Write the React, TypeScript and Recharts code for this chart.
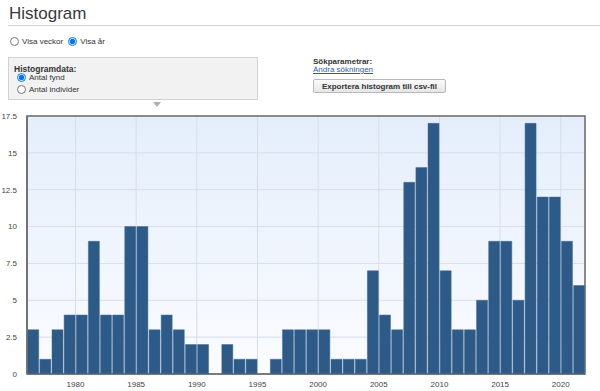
import { Bar, BarChart, CartesianGrid, ReferenceArea, XAxis, YAxis } from "recharts"

const YEARS = [
	1976, 1977, 1978, 1979, 1980, 1981, 1982, 1983, 1984, 1985, 1986, 1987, 1988, 1989, 1990, 1991,
	1992, 1993, 1994, 1995, 1996, 1997, 1998, 1999, 2000, 2001, 2002, 2003, 2004, 2005, 2006, 2007,
	2008, 2009, 2010, 2011, 2012, 2013, 2014, 2015, 2016, 2017, 2018, 2019, 2020, 2021,
]
const FYND = [
	3, 1, 3, 4, 4, 9, 4, 4, 10, 10, 3, 4, 3, 2, 2, 0, 2, 1, 1, 0, 1, 3, 3, 3, 3, 1, 1, 1, 7, 4, 3, 13,
	14, 17, 7, 3, 3, 5, 9, 9, 5, 17, 12, 12, 9, 6,
]
const X_TICKS = [1980, 1985, 1990, 1995, 2000, 2005, 2010, 2015, 2020]
const Y_TICKS = [0, 2.5, 5, 7.5, 10, 12.5, 15, 17.5]

const BAR_COLOR = "#2d5a87"
const GRID_COLOR = "#d6dee9"
const BORDER_COLOR = "#6b6b6b"
const FONT = "Arial, 'Liberation Sans', sans-serif"

const data = YEARS.map((year, i) => ({ year, fynd: FYND[i] }))

const small = { fontSize: 8, color: "#333", fontFamily: FONT }
const radio = { width: 9, height: 9, margin: "0 3px 0 0", verticalAlign: "middle" }

export default function App() {
	return (
		<div style={{ position: "absolute", left: 0, top: 0, width: 600, height: 391, background: "#fff", fontFamily: FONT, overflow: "hidden" }}>
			<div style={{ position: "absolute", left: 9, top: 4, fontSize: 17, color: "#3a3a3a" }}>Histogram</div>
			<div style={{ position: "absolute", left: 8, right: 0, top: 25, borderTop: "1px solid #d0d0d0" }} />

			<div style={{ position: "absolute", left: 10, top: 37, ...small, display: "flex", alignItems: "center" }}>
				<input type="radio" name="period" style={radio} readOnly />
				<span style={{ marginRight: 5 }}>Visa veckor</span>
				<input type="radio" name="period" style={radio} checked readOnly />
				<span>Visa år</span>
			</div>

			<div style={{ position: "absolute", left: 8, top: 57, width: 250, height: 43, background: "#f2f2f2", border: "1px solid #d2d2d2", boxSizing: "border-box" }}>
				<div style={{ position: "absolute", left: 5, top: 6, ...small, fontWeight: "bold", fontSize: 8.5 }}>Histogramdata:</div>
				<div style={{ position: "absolute", left: 8, top: 15, ...small, display: "flex", alignItems: "center" }}>
					<input type="radio" name="hdata" style={radio} checked readOnly />
					<span>Antal fynd</span>
				</div>
				<div style={{ position: "absolute", left: 8, top: 27, ...small, display: "flex", alignItems: "center" }}>
					<input type="radio" name="hdata" style={radio} readOnly />
					<span>Antal individer</span>
				</div>
			</div>
			<div style={{ position: "absolute", left: 153, top: 102, width: 0, height: 0, borderLeft: "4px solid transparent", borderRight: "4px solid transparent", borderTop: "5px solid #b0b0b0" }} />

			<div style={{ position: "absolute", left: 313, top: 57, ...small, fontWeight: "bold" }}>Sökparametrar:</div>
			<div style={{ position: "absolute", left: 313, top: 65, ...small, color: "#2a5db0", textDecoration: "underline" }}>Ändra sökningen</div>
			<div style={{ position: "absolute", left: 313, top: 79, width: 133, height: 14, boxSizing: "border-box", border: "1px solid #b8b8b8", borderRadius: 2, background: "linear-gradient(#fafafa, #e6e6e6)", ...small, fontWeight: "bold", display: "flex", alignItems: "center", justifyContent: "center" }}>
				Exportera histogram till csv-fil
			</div>

			<div style={{ position: "absolute", left: 0, top: 110 }}>
				<BarChart width={600} height={281} data={data} margin={{ top: 6, right: 15, left: 0, bottom: 0 }} barCategoryGap="6%">
					<defs>
						<linearGradient id="plotBg" x1="0" y1="0" x2="0" y2="1">
							<stop offset="0%" stopColor="#e4eefb" />
							<stop offset="100%" stopColor="#fbfcff" />
						</linearGradient>
					</defs>
					<CartesianGrid xAxisId="num" stroke={GRID_COLOR} fill="url(#plotBg)" fillOpacity={1} />
					<XAxis
						xAxisId="num"
						dataKey="year"
						type="number"
						domain={[1976, 2022]}
						allowDataOverflow
						ticks={X_TICKS}
						height={17}
						tick={{ fontSize: 8, fill: "#444", fontFamily: FONT }}
						tickLine={false}
						axisLine={{ stroke: BORDER_COLOR }}
						tickMargin={1}
					/>
					<XAxis xAxisId="cat" dataKey="year" hide height={0} />
					<YAxis
						type="number"
						domain={[0, 17.5]}
						ticks={Y_TICKS}
						width={27}
						tick={{ fontSize: 8, fill: "#444", fontFamily: FONT }}
						tickLine={false}
						axisLine={{ stroke: BORDER_COLOR, strokeWidth: 1.5 }}
						tickMargin={4}
					/>
					<ReferenceArea xAxisId="num" x1={1976} x2={2022} y1={0} y2={17.5} fill="none" stroke={BORDER_COLOR} strokeWidth={1.5} />
					<Bar xAxisId="cat" dataKey="fynd" fill={BAR_COLOR} stroke="#3f6a96" strokeWidth={0.5} isAnimationActive={false} />
				</BarChart>
			</div>
		</div>
	)
}
